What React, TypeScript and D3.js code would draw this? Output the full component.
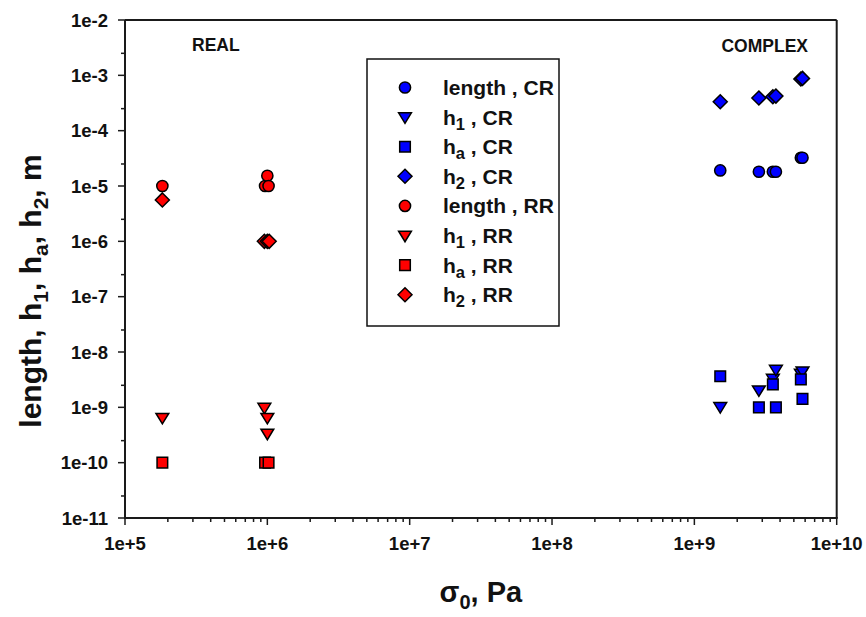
import React from "react";
import * as d3 from "d3";

const xTicks = [1e5, 1e6, 1e7, 1e8, 1e9, 1e10];
const xTickLabels = ["1e+5", "1e+6", "1e+7", "1e+8", "1e+9", "1e+10"];
const yTicks = [1e-2, 1e-3, 1e-4, 1e-5, 1e-6, 1e-7, 1e-8, 1e-9, 1e-10, 1e-11];
const yTickLabels = ["1e-2", "1e-3", "1e-4", "1e-5", "1e-6", "1e-7", "1e-8", "1e-9", "1e-10", "1e-11"];

// CR (complex) series
const crLengthX = [1.52e9, 2.84e9, 3.56e9, 3.74e9, 5.6e9, 5.75e9];
const crLengthY = [1.91e-5, 1.81e-5, 1.81e-5, 1.81e-5, 3.24e-5, 3.24e-5];
const crH1X = [1.52e9, 2.84e9, 3.56e9, 3.74e9, 5.6e9, 5.75e9];
const crH1Y = [1.02e-9, 2.04e-9, 3.3e-9, 4.8e-9, 4.1e-9, 4.5e-9];
const crHaX = [1.52e9, 2.84e9, 3.56e9, 3.74e9, 5.6e9, 5.75e9];
const crHaY = [3.65e-9, 1.0e-9, 2.6e-9, 1.0e-9, 3.2e-9, 1.42e-9];
const crH2X = [1.52e9, 2.84e9, 3.56e9, 3.74e9, 5.6e9, 5.75e9];
const crH2Y = [3.33e-4, 3.89e-4, 4.1e-4, 4.22e-4, 8.6e-4, 8.8e-4];

// RR (real) series
const rrLengthX = [1.83e5, 9.64e5, 1.0e6, 1.02e6];
const rrLengthY = [1.0e-5, 1.0e-5, 1.53e-5, 1.0e-5];
const rrH1X = [1.83e5, 9.53e5, 1.0e6, 1.0e6];
const rrH1Y = [6.5e-10, 9.9e-10, 6.5e-10, 3.36e-10];
const rrHaX = [1.83e5, 9.64e5, 1.02e6];
const rrHaY = [1.0e-10, 1.0e-10, 1.0e-10];
const rrH2X = [1.83e5, 9.53e5, 1.0e6, 1.03e6];
const rrH2Y = [5.6e-6, 1.0e-6, 1.0e-6, 1.0e-6];

type Shape = "circle" | "triangle" | "square" | "diamond";

const seriesList: { name: string; sub: string; group: string; shape: Shape; color: string; xs: number[]; ys: number[] }[] = [
  { name: "length", sub: "", group: "CR", shape: "circle", color: "#0000ff", xs: crLengthX, ys: crLengthY },
  { name: "h", sub: "1", group: "CR", shape: "triangle", color: "#0000ff", xs: crH1X, ys: crH1Y },
  { name: "h", sub: "a", group: "CR", shape: "square", color: "#0000ff", xs: crHaX, ys: crHaY },
  { name: "h", sub: "2", group: "CR", shape: "diamond", color: "#0000ff", xs: crH2X, ys: crH2Y },
  { name: "length", sub: "", group: "RR", shape: "circle", color: "#ff0000", xs: rrLengthX, ys: rrLengthY },
  { name: "h", sub: "1", group: "RR", shape: "triangle", color: "#ff0000", xs: rrH1X, ys: rrH1Y },
  { name: "h", sub: "a", group: "RR", shape: "square", color: "#ff0000", xs: rrHaX, ys: rrHaY },
  { name: "h", sub: "2", group: "RR", shape: "diamond", color: "#ff0000", xs: rrH2X, ys: rrH2Y },
];

function markerPath(shape: Shape, s: number): string {
  if (shape === "circle") {
    const r = 5.6 * s;
    return `M${r},0A${r},${r} 0 1,1 ${-r},0A${r},${r} 0 1,1 ${r},0Z`;
  }
  if (shape === "square") {
    const h = 5.3 * s;
    return `M${-h},${-h}H${h}V${h}H${-h}Z`;
  }
  if (shape === "diamond") {
    const h = 7 * s;
    return `M0,${-h}L${h},0L0,${h}L${-h},0Z`;
  }
  const w = 6.4 * s;
  const t = 4.3 * s;
  const b = 6.2 * s;
  return `M${-w},${-t}L${w},${-t}L0,${b}Z`;
}

const FONT = "'Liberation Sans', Arial, Helvetica, sans-serif";

export default function App() {
  const W = 866;
  const H = 617;
  const left = 125;
  const right = 836.7;
  const top = 20;
  const bottom = 518;

  const x = d3.scaleLog().domain([1e5, 1e10]).range([left, right]);
  const y = d3.scaleLog().domain([1e-11, 1e-2]).range([bottom, top]);

  const xMinor: number[] = [];
  for (let e = 5; e < 10; e++) {
    for (let m = 2; m <= 9; m++) xMinor.push(m * Math.pow(10, e));
  }
  const yMinor: number[] = [];
  for (let e = -11; e < -2; e++) yMinor.push(2.5 * Math.pow(10, e));

  const legendX = 367;
  const legendY = 59;
  const legendW = 192;
  const legendH = 267;
  const rowY0 = 87.5;
  const rowStep = 29.6;

  return (
    <svg width={W} height={H} style={{ position: "absolute", left: 0, top: 0, background: "#fff" }} fontFamily={FONT}>
      <rect x={0} y={0} width={W} height={H} fill="#fff" />
      {/* frame */}
      <line x1={left} y1={top} x2={right} y2={top} stroke="#1a1a1a" strokeWidth={2} />
      <line x1={right} y1={top} x2={right} y2={bottom} stroke="#1a1a1a" strokeWidth={2} />
      <line x1={left} y1={top} x2={left} y2={bottom + 1} stroke="#1a1a1a" strokeWidth={2} />
      <line x1={left - 1} y1={bottom} x2={right + 1} y2={bottom} stroke="#1a1a1a" strokeWidth={2} />

      {/* y ticks */}
      {yTicks.map((t, i) => (
        <g key={"yt" + i}>
          <line x1={left - 7} x2={left} y1={y(t)} y2={y(t)} stroke="#1a1a1a" strokeWidth={1.5} />
          <text x={left - 17} y={y(t)} dy="0.36em" textAnchor="end" fontSize={18.5} fontWeight="bold" fill="#111">
            {yTickLabels[i]}
          </text>
        </g>
      ))}
      {yMinor.map((t, i) => (
        <line key={"ym" + i} x1={left - 4} x2={left} y1={y(t)} y2={y(t)} stroke="#1a1a1a" strokeWidth={1.5} />
      ))}

      {/* x ticks */}
      {xTicks.map((t, i) => (
        <g key={"xt" + i}>
          <line x1={x(t)} x2={x(t)} y1={bottom} y2={bottom + 7} stroke="#1a1a1a" strokeWidth={1.5} />
          <text x={x(t)} y={bottom + 32} textAnchor="middle" fontSize={18.5} fontWeight="bold" fill="#111">
            {xTickLabels[i]}
          </text>
        </g>
      ))}
      {xMinor.map((t, i) => (
        <line key={"xm" + i} x1={x(t)} x2={x(t)} y1={bottom} y2={bottom + 4} stroke="#1a1a1a" strokeWidth={1.5} />
      ))}

      {/* annotations */}
      <text x={192} y={51} fontSize={17.5} fontWeight="bold" fill="#111">REAL</text>
      <text x={808} y={52} textAnchor="end" fontSize={17.5} fontWeight="bold" fill="#111">COMPLEX</text>

      {/* data */}
      {seriesList.map((s, si) => (
        <g key={"s" + si}>
          {s.xs.map((xv, j) => (
            <path
              key={j}
              d={markerPath(s.shape, 1)}
              transform={`translate(${x(xv)},${y(s.ys[j])})`}
              fill={s.color}
              stroke="#000"
              strokeWidth={1.5}
            />
          ))}
        </g>
      ))}

      {/* legend */}
      <rect x={legendX} y={legendY} width={legendW} height={legendH} fill="#fff" stroke="#111" strokeWidth={1.5} />
      {seriesList.map((s, i) => {
        const ry = rowY0 + i * rowStep;
        return (
          <g key={"lg" + i}>
            <path d={markerPath(s.shape, 1)} transform={`translate(405,${ry})`} fill={s.color} stroke="#000" strokeWidth={1.5} />
            <text x={443} y={ry + 7.5} fontSize={21} fontWeight="bold" fill="#111">
              {s.name}
              {s.sub ? (
                <tspan fontSize={16.5} dy={5}>{s.sub}</tspan>
              ) : null}
              <tspan dy={s.sub ? -5 : 0}>{" , " + s.group}</tspan>
            </text>
          </g>
        );
      })}

      {/* axis titles */}
      <text transform={`translate(41,${(top + bottom) / 2 + 22}) rotate(-90)`} textAnchor="middle" fontSize={30} fontWeight="bold" fill="#111">
        length, h<tspan fontSize={21} dy={7}>1</tspan>
        <tspan dy={-7}>, h</tspan>
        <tspan fontSize={21} dy={7}>a</tspan>
        <tspan dy={-7}>, h</tspan>
        <tspan fontSize={21} dy={7}>2</tspan>
        <tspan dy={-7}>, m</tspan>
      </text>
      <text x={(left + right) / 2} y={602} textAnchor="middle" fontSize={29} fontWeight="bold" fill="#111">
        σ<tspan fontSize={20} dy={7}>0</tspan>
        <tspan dy={-7}>, Pa</tspan>
      </text>
    </svg>
  );
}
